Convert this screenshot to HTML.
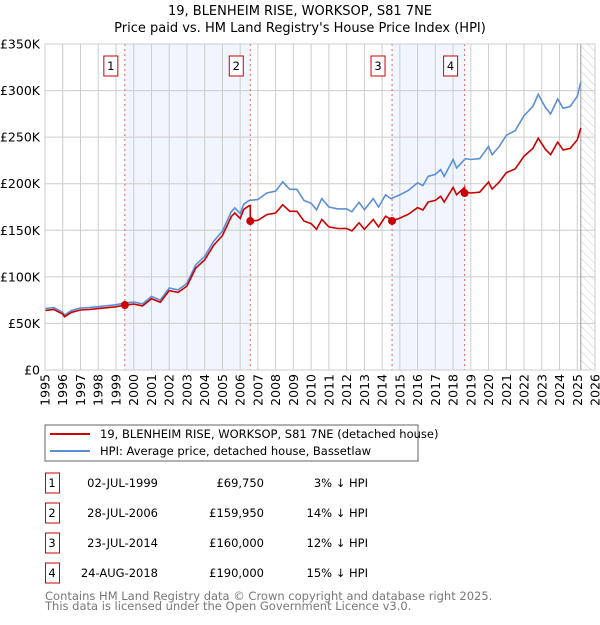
<!DOCTYPE html>
<html><head><meta charset="utf-8"><style>
body{margin:0;background:#fff;font-family:"Liberation Sans","DejaVu Sans",sans-serif;}
svg text{font-family:"DejaVu Sans","Liberation Sans",sans-serif;}
</style></head><body>
<svg id="c" width="600" height="620" viewBox="0 0 600 620" xmlns="http://www.w3.org/2000/svg">
<defs><pattern id="hatch" width="6" height="6" patternUnits="userSpaceOnUse" patternTransform="rotate(-45)"><line x1="0" y1="0" x2="0" y2="6" stroke="#ccc" stroke-width="1"/></pattern></defs>
<text x="300" y="15" text-anchor="middle" font-size="13" fill="#000">19, BLENHEIM RISE, WORKSOP, S81 7NE</text>
<text x="300" y="32" text-anchor="middle" font-size="13" fill="#000">Price paid vs. HM Land Registry's House Price Index (HPI)</text>
<g id="plot"></g>
<rect x="45" y="425" width="373" height="36" fill="#fff" stroke="#666"/>
<line x1="50" y1="434" x2="90" y2="434" stroke="#cc0000" stroke-width="2"/>
<text x="100" y="438" font-size="11.5">19, BLENHEIM RISE, WORKSOP, S81 7NE (detached house)</text>
<line x1="50" y1="451" x2="90" y2="451" stroke="#5b8fd4" stroke-width="2"/>
<text x="100" y="455" font-size="11.5">HPI: Average price, detached house, Bassetlaw</text>
<g id="table" font-size="11.5"></g>
<text x="45" y="600" font-size="11.5" fill="#777">Contains HM Land Registry data © Crown copyright and database right 2025.</text>
<text x="45" y="610" font-size="11.5" fill="#777">This data is licensed under the Open Government Licence v3.0.</text>
</svg>
<script>
const hpiYears=[1995,1995.5,1996,1996.1,1996.5,1997,1997.5,1998,1998.5,1999,1999.5,2000,2000.5,2001,2001.5,2002,2002.5,2003,2003.5,2004,2004.5,2005,2005.5,2005.7,2006,2006.2,2006.5,2007,2007.5,2008,2008.4,2008.8,2009.2,2009.6,2010,2010.3,2010.6,2011,2011.5,2012,2012.3,2012.7,2013,2013.5,2013.8,2014.2,2014.5,2015,2015.5,2016,2016.3,2016.6,2017,2017.3,2017.5,2018,2018.2,2018.5,2018.7,2019,2019.5,2020,2020.2,2020.6,2021,2021.5,2022,2022.5,2022.8,2023.2,2023.5,2023.9,2024.2,2024.6,2025,2025.2];
const hpiValues=[66,67,62,59,64,66.5,67,68,69,70,72,73,71,79,75,88,86,93,113,122,138,149,170,174,168,178,182,183,190,192,202,194,194,182,179,172,184,175,173,173,170,180,172,184,175,188,184,188,193,201,198,208,210,215,208,226,217,223,227,226,227,240,231,240,252,257,273,283,296,282,275,291,281,283,294,309];
const saleYears=[1999.5,2006.57,2014.56,2018.65];
const salePrices=[69.75,159.95,160,190];
const saleLabels=["1","2","3","4"];
const saleDates=["02-JUL-1999","28-JUL-2006","23-JUL-2014","24-AUG-2018"];
const salePriceText=["£69,750","£159,950","£160,000","£190,000"];
const saleDiffs=["3% ↓ HPI","14% ↓ HPI","12% ↓ HPI","15% ↓ HPI"];
const yTicks=[0,50,100,150,200,250,300,350];
const yTickLabels=["£0","£50K","£100K","£150K","£200K","£250K","£300K","£350K"];
const NS="http://www.w3.org/2000/svg";
const X0=45,X1=595,Y0=370,Y1=44,YR0=1995,YR1=2026;
const sx=y=>X0+(y-YR0)/(YR1-YR0)*(X1-X0);
const sy=v=>Y0-v/350*(Y0-Y1);
function mk(t,a,p){const e=document.createElementNS(NS,t);for(const k in a)e.setAttribute(k,a[k]);(p||document.getElementById('plot')).appendChild(e);return e;}
function hpiAt(y){for(let i=0;i<hpiYears.length-1;i++){if(y<=hpiYears[i+1]){const t=(y-hpiYears[i])/(hpiYears[i+1]-hpiYears[i]);return hpiValues[i]+t*(hpiValues[i+1]-hpiValues[i]);}}return hpiValues[hpiValues.length-1];}
const P=document.getElementById('plot');
let r;
r=mk('rect',{x:sx(saleYears[0]),y:Y1,width:sx(saleYears[1])-sx(saleYears[0]),height:Y0-Y1,fill:'#eef3fc',opacity:0.8});

r=mk('rect',{x:sx(saleYears[2]),y:Y1,width:sx(saleYears[3])-sx(saleYears[2]),height:Y0-Y1,fill:'#eef3fc',opacity:0.8});

r=mk('rect',{x:sx(2025.2),y:Y1,width:X1-sx(2025.2),height:Y0-Y1,fill:'url(#hatch)'});

for(let y=YR0;y<=YR1;y++){
 const l=mk('line',{x1:sx(y),x2:sx(y),y1:Y1,y2:Y0,stroke:'#ccc','stroke-width':1});
 
 const t=mk('text',{x:0,y:0,'font-size':12.5,'text-anchor':'end',transform:`translate(${sx(y)+4.5},374) rotate(-90)`});
 t.textContent=y;
}
yTicks.forEach((v,i)=>{
 const l=mk('line',{x1:X0,x2:X1,y1:sy(v),y2:sy(v),stroke:'#ccc','stroke-width':1});
 
 const t=mk('text',{x:40,y:sy(v)+4.5,'font-size':12.5,'text-anchor':'end'});
 t.textContent=yTickLabels[i];
});
r=mk('line',{x1:sx(2025.2),x2:sx(2025.2),y1:Y1,y2:Y0,stroke:'#999','stroke-width':1});

saleYears.forEach((y,i)=>{
 const l=mk('line',{x1:sx(y),x2:sx(y),y1:Y1,y2:Y0,stroke:'#e06666','stroke-width':1,'stroke-dasharray':'2,3'});
 
 const b=mk('rect',{x:sx(y)-21,y:56,width:14,height:20,fill:'#fff',stroke:'#cc0000'});
 
 const t=mk('text',{x:sx(y)-14,y:70,'font-size':11.5,'text-anchor':'middle'});
 t.textContent=saleLabels[i];
});
// HPI line
let d='';hpiYears.forEach((y,i)=>{d+=(i?'L':'M')+sx(y).toFixed(1)+','+sy(hpiValues[i]).toFixed(1);});
r=mk('path',{d:d,fill:'none',stroke:'#5b8fd4','stroke-width':1.6});

// property line: indexed from sales
function factorAt(y){let k=0;for(let i=0;i<saleYears.length;i++)if(y>=saleYears[i])k=i;return salePrices[k]/hpiAt(saleYears[k]);}
let pts=[];
for(let i=0;i<hpiYears.length;i++){
 saleYears.forEach((s,j)=>{if(s>(i?hpiYears[i-1]:0)&&s<=hpiYears[i]){pts.push([s,hpiAt(s)*(j?salePrices[j-1]/hpiAt(saleYears[j-1]):factorAt(s))]);pts.push([s,salePrices[j]]);}});
 pts.push([hpiYears[i],hpiValues[i]*factorAt(hpiYears[i])]);
}
d='';pts.forEach((p,i)=>{d+=(i?'L':'M')+sx(p[0]).toFixed(1)+','+sy(p[1]).toFixed(1);});
r=mk('path',{d:d,fill:'none',stroke:'#cc0000','stroke-width':1.6});

saleYears.forEach((y,i)=>{
 const c=mk('circle',{cx:sx(y),cy:sy(salePrices[i]),r:4,fill:'#cc0000'});
 
});
r=mk('rect',{x:X0,y:Y1,width:X1-X0,height:Y0-Y1,fill:'none',stroke:'#ccc'});

// table
const T=document.getElementById('table');
saleYears.forEach((y,i)=>{
 const cy=483+i*30;
 const b=mk('rect',{x:45.5,y:cy-10,width:14,height:20,fill:'#fff',stroke:'#cc0000'},T);
 
 const cols=[[52,'middle',saleLabels[i],'table-row-number'],[158,'end',saleDates[i],'table-sale-date'],[264,'end',salePriceText[i],'table-sale-price'],[368,'end',saleDiffs[i],'table-hpi-diff']];
 cols.forEach(c=>{const t=mk('text',{x:c[0],y:cy+4,'text-anchor':c[1]},T);t.textContent=c[2];});
});
</script>
</body></html>
